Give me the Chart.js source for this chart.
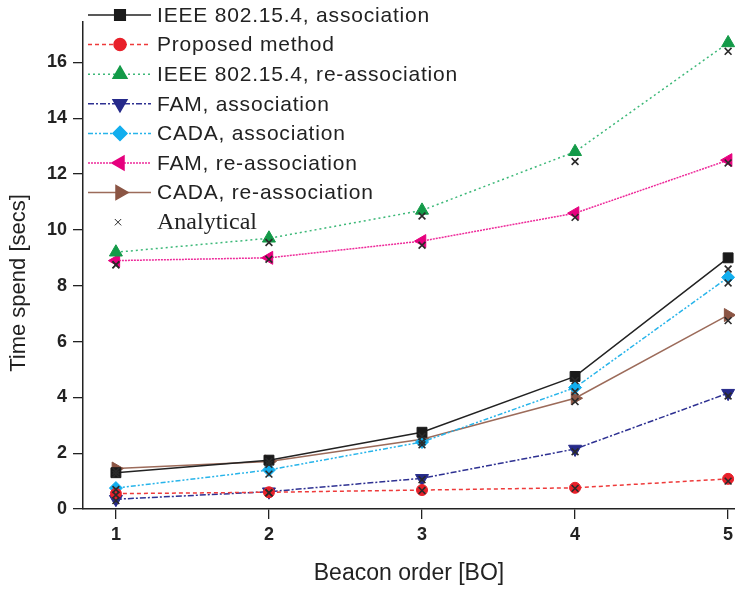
<!DOCTYPE html>
<html>
<head>
<meta charset="utf-8">
<script src="https://cdn.jsdelivr.net/npm/chart.js@4.4.1/dist/chart.umd.min.js"></script>
<style>
  body { margin: 0; background: #fff; }
  #wrap { width: 735px; height: 589px; }
</style>
</head>
<body>
<div id="wrap"><canvas id="chart" width="735" height="589"></canvas></div>
<script>
// beacon order on the x axis
const beaconOrder = [1, 2, 3, 4, 5];
const yTicks = [0, 2, 4, 6, 8, 10, 12, 14, 16];

// simulated time spent (secs)
const ieeeAssoc = [1.3, 1.75, 2.75, 4.75, 9.0];
const proposed = [0.55, 0.6, 0.68, 0.76, 1.08];
const ieeeReassoc = [9.2, 9.7, 10.7, 12.8, 16.7];
const famAssoc = [0.35, 0.62, 1.1, 2.15, 4.15];
const cadaAssoc = [0.75, 1.4, 2.4, 4.35, 8.3];
const famReassoc = [8.9, 9.0, 9.6, 10.6, 12.5];
const cadaReassoc = [1.45, 1.7, 2.5, 3.97, 6.95];

// analytical values (x markers)
const anIeeeAssoc = [1.25, 1.7, 2.6, 4.6, 8.6];
const anProposed = [0.5, 0.58, 0.66, 0.74, 1.0];
const anIeeeReassoc = [8.75, 9.55, 10.5, 12.45, 16.4];
const anFamAssoc = [0.3, 0.58, 1.05, 2.05, 4.05];
const anCadaAssoc = [0.7, 1.25, 2.3, 4.2, 8.1];
const anFamReassoc = [8.75, 8.95, 9.45, 10.45, 12.4];
const anCadaReassoc = [1.35, 1.6, 2.4, 3.85, 6.75];

const yTitle = 'Time spend [secs]';

const toXY = (vals) => vals.map((v, i) => ({ x: beaconOrder[i], y: v }));

function series(label, vals, line, marker, dash, style, rot, r) {
  return {
    label: label,
    data: toXY(vals),
    borderColor: line,
    backgroundColor: marker,
    pointBackgroundColor: marker,
    pointBorderColor: marker,
    borderWidth: 1.5,
    borderDash: dash,
    pointStyle: style,
    pointRotation: rot,
    pointRadius: r,
    pointBorderWidth: 1,
    showLine: true,
    tension: 0,
    order: 1
  };
}

const analyticalPts = [].concat(
  toXY(anIeeeAssoc), toXY(anProposed), toXY(anIeeeReassoc), toXY(anFamAssoc),
  toXY(anCadaAssoc), toXY(anFamReassoc), toXY(anCadaReassoc)
);

const datasets = [
  series('IEEE 802.15.4, association', ieeeAssoc, '#222222', '#1a1a1a', [], 'rect', 0, 7),
  series('Proposed method', proposed, '#ee3a3a', '#e8202a', [4, 3], 'circle', 0, 5.5),
  series('IEEE 802.15.4, re-association', ieeeReassoc, '#3cb878', '#139a48', [2, 3], 'triangle', 0, 7.5),
  series('FAM, association', famAssoc, '#2e3192', '#262a8a', [6, 2, 2, 2], 'triangle', 180, 7.5),
  series('CADA, association', cadaAssoc, '#27b4ea', '#12aeee', [5, 2, 2, 2, 2, 2], 'rectRot', 0, 6.5),
  series('FAM, re-association', famReassoc, '#ee2a9a', '#e6007e', [2, 1], 'triangle', -90, 7.5),
  series('CADA, re-association', cadaReassoc, '#9c6b5a', '#8b5544', [], 'triangle', 90, 7.5),
  {
    label: 'Analytical',
    data: analyticalPts,
    showLine: false,
    pointStyle: 'crossRot',
    pointRadius: 4.8,
    pointBorderWidth: 1.6,
    pointBorderColor: '#2a2a2a',
    pointBackgroundColor: '#2a2a2a',
    borderColor: '#2a2a2a',
    order: 0
  }
];

const axisFont = { family: '"Liberation Sans"', size: 18, weight: 'bold' };
const titleFont = { family: '"Liberation Sans"', size: 23 };

// legend drawn inside the plot, top-left, plus y title and x tick labels
const insideLegend = {
  id: 'insideLegend',
  afterDraw(chart) {
    const ctx = chart.ctx;
    chart.data.datasets.forEach((ds, i) => {
      const y = 15 + i * 29.6;
      ctx.save();
      if (ds.showLine !== false) {
        ctx.strokeStyle = ds.borderColor;
        ctx.lineWidth = ds.borderWidth;
        ctx.setLineDash(ds.borderDash || []);
        ctx.beginPath();
        ctx.moveTo(88, y);
        ctx.lineTo(151, y);
        ctx.stroke();
      }
      ctx.setLineDash([]);
      ctx.fillStyle = ds.pointBackgroundColor;
      ctx.strokeStyle = ds.pointBorderColor;
      Chart.helpers.drawPoint(ctx, {
        pointStyle: ds.pointStyle,
        rotation: ds.pointRotation || 0,
        radius: ds.showLine === false ? 4.5 : ds.pointRadius + 0.5,
        borderWidth: ds.pointBorderWidth
      }, ds.showLine === false ? 118 : 120, y);
      ctx.fillStyle = '#222';
      ctx.textBaseline = 'middle';
      if (ds.showLine === false) {
        ctx.font = '24px "Liberation Serif"';
        ctx.letterSpacing = '0px';
      } else {
        ctx.font = '21px "Liberation Sans"';
        ctx.letterSpacing = '0.8px';
      }
      ctx.fillText(ds.label, 157, y + 1);
      ctx.restore();
    });

    // x tick labels
    const xs = chart.scales.x;
    ctx.save();
    ctx.font = 'bold 18px "Liberation Sans"';
    ctx.fillStyle = '#222';
    ctx.textAlign = 'center';
    ctx.textBaseline = 'middle';
    beaconOrder.forEach(v => ctx.fillText(String(v), xs.getPixelForValue(v), xs.top + 26));
    ctx.restore();

    // y title
    ctx.save();
    ctx.translate(19, 283);
    ctx.rotate(-Math.PI / 2);
    ctx.font = '22px "Liberation Sans"';
    ctx.fillStyle = '#222';
    ctx.textAlign = 'center';
    ctx.textBaseline = 'middle';
    ctx.fillText(yTitle, 0, 0);
    ctx.restore();
  }
};

new Chart(document.getElementById('chart'), {
  type: 'scatter',
  data: { datasets: datasets },
  options: {
    responsive: false,
    animation: false,
    layout: { autoPadding: false, padding: { top: 22, left: 0, right: 0, bottom: 0 } },
    plugins: { legend: { display: false }, tooltip: { enabled: false } },
    scales: {
      x: {
        type: 'linear',
        min: 0.785,
        max: 5.045,
        afterBuildTicks: (s) => { s.ticks = beaconOrder.map(v => ({ value: v })); },
        afterFit: (s) => { s.height = 80; },
        grid: { drawOnChartArea: false, drawTicks: true, tickLength: 10, color: '#222', lineWidth: 1.3 },
        border: { display: true, color: '#222', width: 1.5 },
        ticks: { display: false },
        title: { display: true, text: 'Beacon order [BO]', color: '#222', font: titleFont, padding: { top: 0, bottom: 2 } }
      },
      y: {
        type: 'linear',
        min: 0,
        max: 17.45,
        afterBuildTicks: (s) => { s.ticks = yTicks.map(v => ({ value: v })); },
        afterFit: (s) => { s.width = 83; },
        grid: { drawOnChartArea: false, drawTicks: true, tickLength: 10, color: '#222', lineWidth: 1.3 },
        border: { display: true, color: '#222', width: 1.5 },
        ticks: { color: '#222', font: axisFont, padding: 6 },
        title: { display: false }
      }
    }
  },
  plugins: [insideLegend]
});
</script>
</body>
</html>
